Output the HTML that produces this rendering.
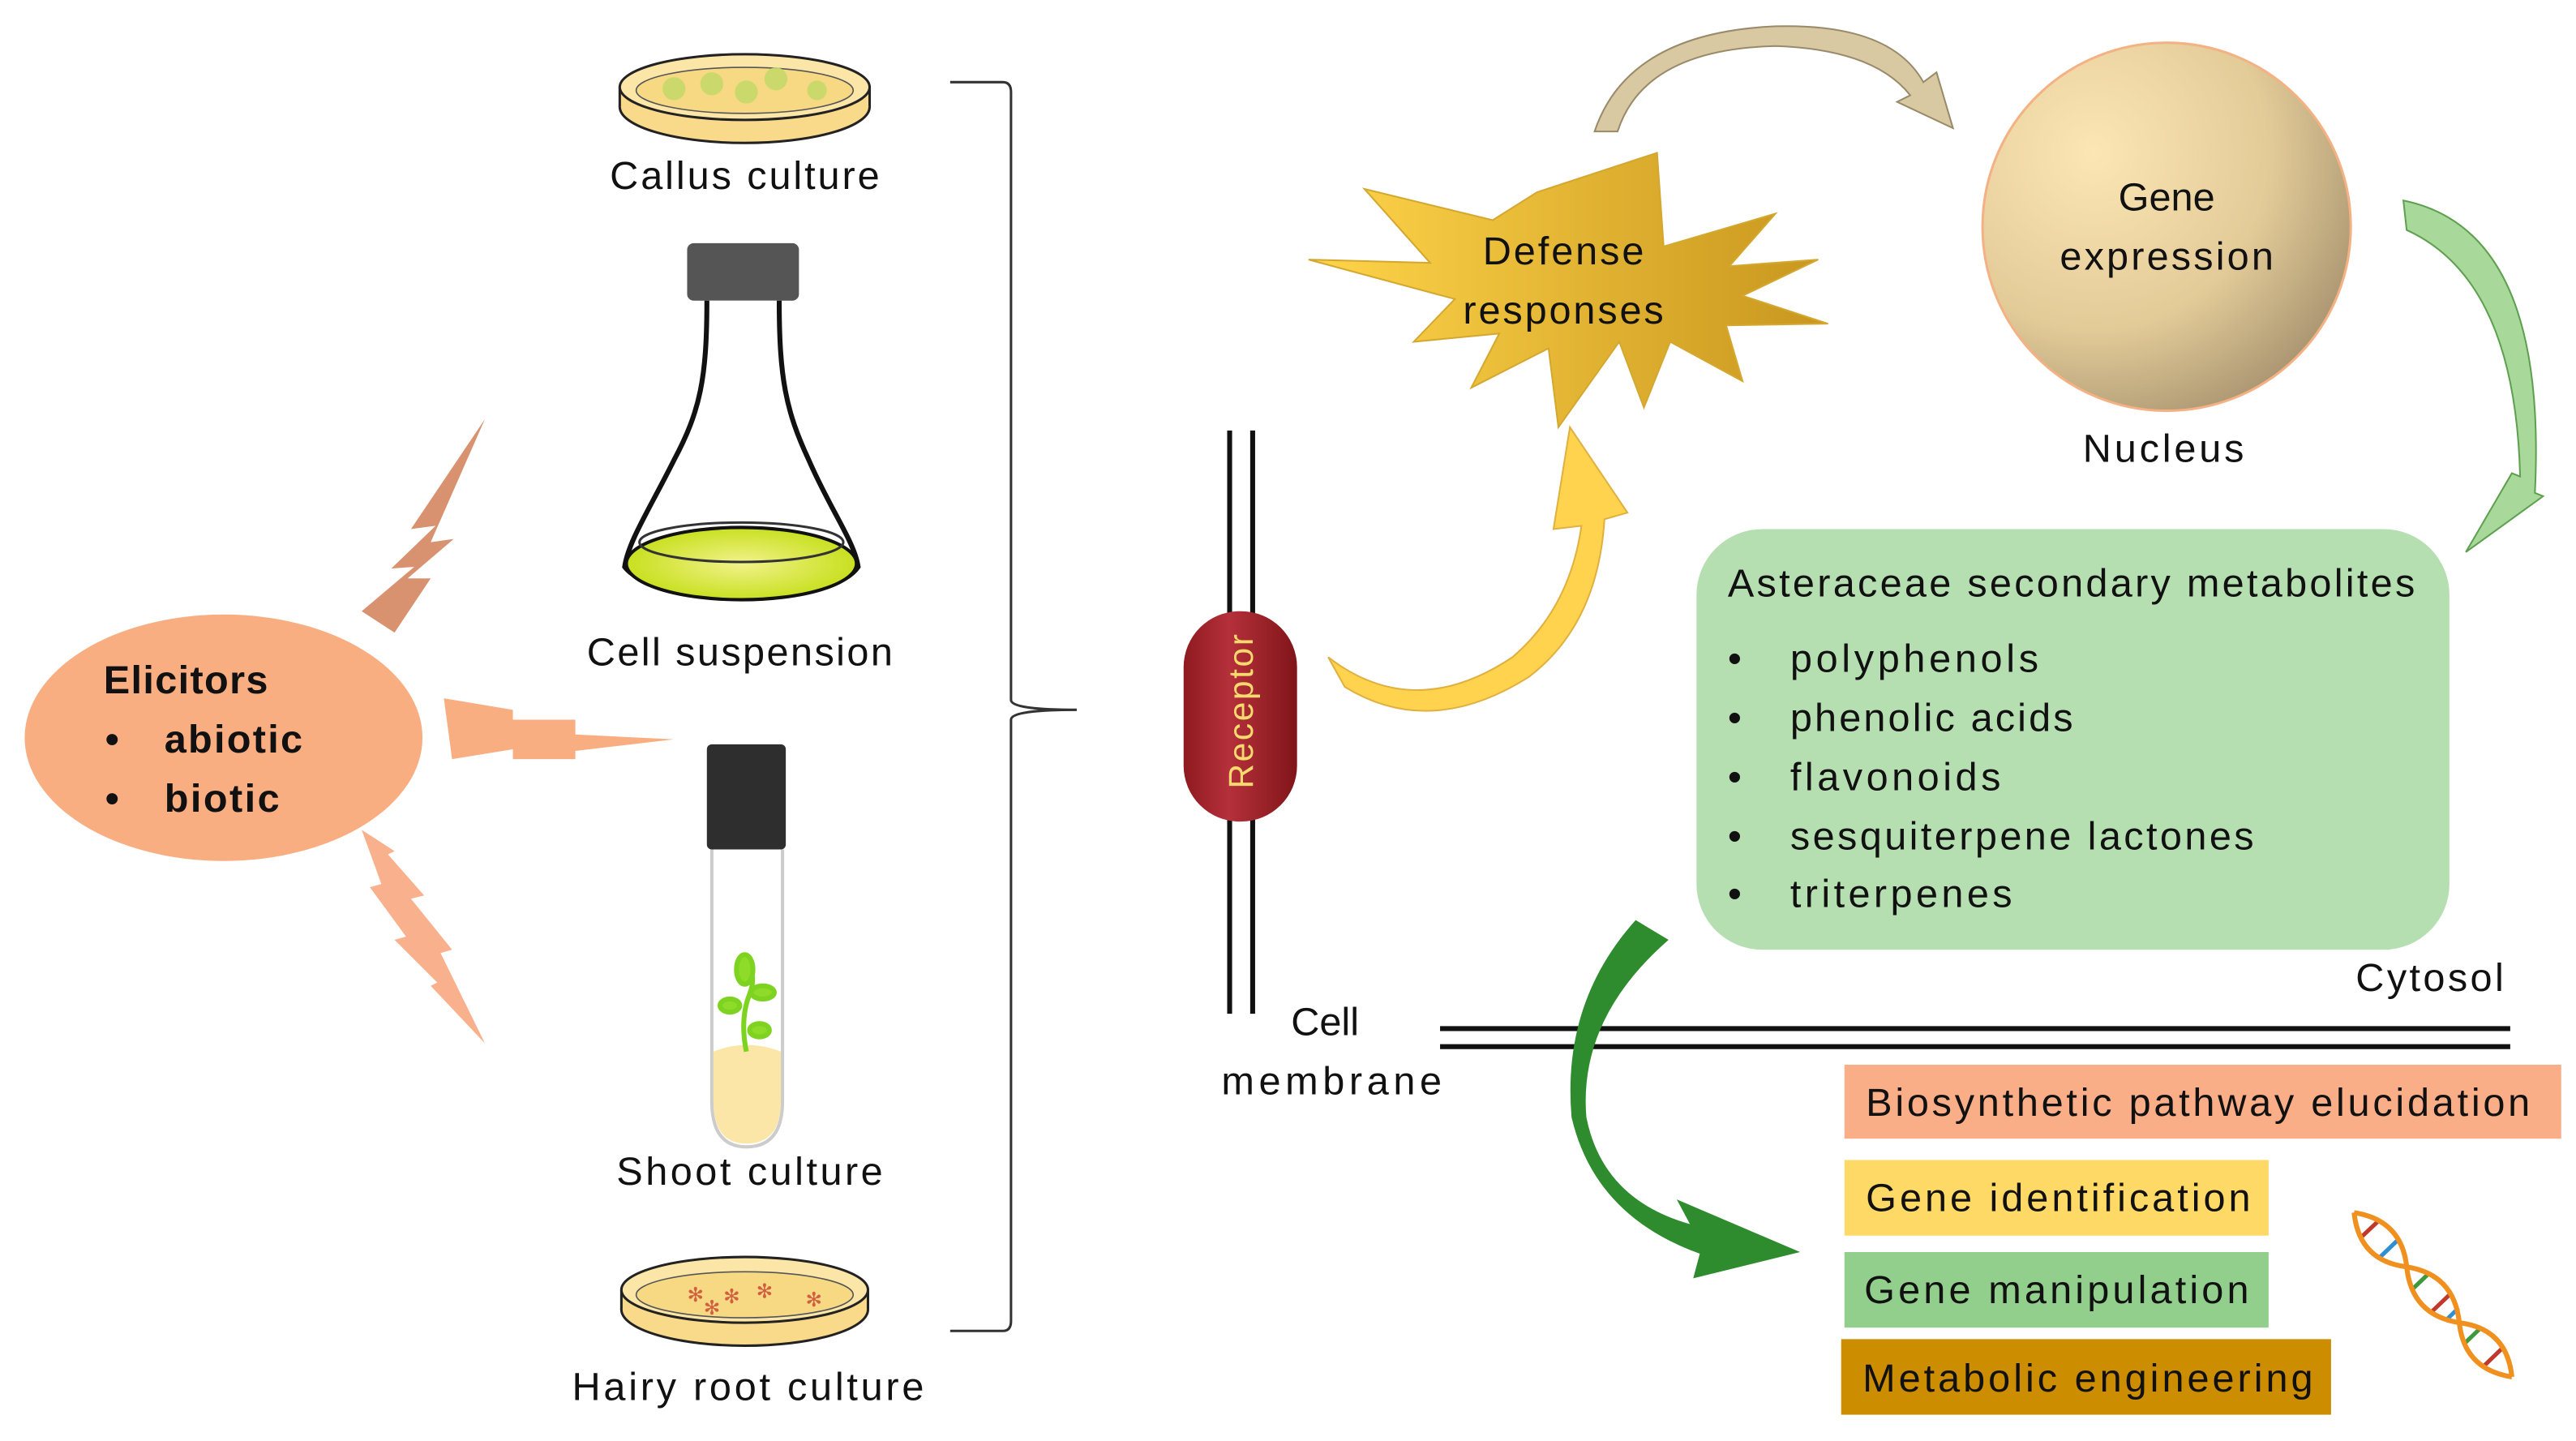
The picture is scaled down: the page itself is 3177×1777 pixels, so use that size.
<!DOCTYPE html>
<html><head><meta charset="utf-8"><style>html,body{margin:0;padding:0;background:#fff}svg{display:block}text{font-family:"Liberation Sans",sans-serif;fill:#111}</style></head>
<body>
<svg width="3177" height="1777" viewBox="0 0 1567 877" preserveAspectRatio="none" xmlns="http://www.w3.org/2000/svg">
<defs>
<radialGradient id="nuc" cx="0.3" cy="0.3" r="0.8"><stop offset="0" stop-color="#FBE6B4"/><stop offset="0.6" stop-color="#E3CB98"/><stop offset="1" stop-color="#A89470"/></radialGradient>
<linearGradient id="star" x1="0" x2="1"><stop offset="0" stop-color="#FFD54A"/><stop offset="1" stop-color="#C8961E"/></linearGradient>
<linearGradient id="rec" x1="0" x2="1"><stop offset="0" stop-color="#8E1A20"/><stop offset="0.4" stop-color="#B5303A"/><stop offset="1" stop-color="#801519"/></linearGradient>
<radialGradient id="liq"><stop offset="0" stop-color="#F2F28A"/><stop offset="1" stop-color="#C8E020"/></radialGradient>
</defs>

<ellipse cx="136" cy="449" rx="121" ry="75" fill="#F9AE82"/>
<text x="63" y="422" font-size="24" font-weight="bold" textLength="100">Elicitors</text>
<text x="64" y="458" font-size="24" font-weight="bold">•</text>
<text x="100" y="458" font-size="24" font-weight="bold" textLength="84">abiotic</text>
<text x="64" y="494" font-size="24" font-weight="bold">•</text>
<text x="100" y="494" font-size="24" font-weight="bold" textLength="70">biotic</text>

<polygon points="295,255 262,330 276,328 248,352 262,352 240,385 220,372 252,345 238,346 265,320 250,322" fill="#D99270"/>
<polygon points="270,425 312,432 312,438 350,438 350,447 410,450 350,457 350,462 312,462 312,456 275,462" fill="#F9AE82"/>
<polygon points="220,505 240,518 236,520 258,545 250,547 275,578 268,580 295,635 262,600 266,598 240,572 247,570 225,540 232,538" fill="#F9B08C"/>

<ellipse cx="453" cy="65" rx="76" ry="22" fill="#F9D98A" stroke="#222" stroke-width="1.5"/>
<rect x="377" y="53" width="152" height="12" fill="#F9D98A"/>
<line x1="377" y1="53" x2="377" y2="65" stroke="#222" stroke-width="1.5"/><line x1="529" y1="53" x2="529" y2="65" stroke="#222" stroke-width="1.5"/>
<ellipse cx="453" cy="53" rx="76" ry="20" fill="#FBE6A8" stroke="#222" stroke-width="1.5"/>
<ellipse cx="453" cy="55" rx="66" ry="14" fill="#F7D983" stroke="#555" stroke-width="0.8"/>
<g fill="#C7D96A" opacity="0.9"><circle cx="410" cy="54" r="7"/><circle cx="433" cy="51" r="7"/><circle cx="454" cy="56" r="7"/><circle cx="472" cy="48" r="7"/><circle cx="497" cy="55" r="6"/></g>
<text x="453" y="115" font-size="24" text-anchor="middle" textLength="164">Callus culture</text>

<rect x="418" y="148" width="68" height="35" rx="4" fill="#555"/>
<path d="M430 183 C430 230 426 250 410 280 C395 310 382 330 380 345 C400 370 505 370 522 345 C520 330 505 310 492 280 C478 250 474 230 474 183" fill="#fff" stroke="#111" stroke-width="3"/>
<ellipse cx="451" cy="343" rx="70" ry="22" fill="url(#liq)" stroke="#111" stroke-width="2"/>
<ellipse cx="451" cy="330" rx="62" ry="12" fill="none" stroke="#333" stroke-width="1.5"/>
<text x="450" y="405" font-size="24" text-anchor="middle" textLength="186">Cell suspension</text>

<path d="M433 517 L433 670 Q433 698 454 698 Q476 698 476 670 L476 517" fill="#fff" stroke="#ccc" stroke-width="2"/>
<path d="M434 640 Q454 632 475 640 L475 670 Q475 696 454 696 Q434 696 434 670 Z" fill="#FBE6A8"/>
<rect x="430" y="453" width="48" height="64" rx="3" fill="#2E2E2E"/>
<g stroke="#7ED321" stroke-width="3" fill="#8EDB2A"><path d="M454 640 Q450 620 456 605 Q460 595 455 585" fill="none"/>
<ellipse cx="453" cy="590" rx="5" ry="9"/><ellipse cx="464" cy="604" rx="7" ry="4"/><ellipse cx="444" cy="612" rx="6" ry="4"/><ellipse cx="462" cy="627" rx="6" ry="4"/></g>
<text x="456" y="721" font-size="24" text-anchor="middle" textLength="162">Shoot culture</text>

<ellipse cx="453" cy="797" rx="75" ry="22" fill="#F9D98A" stroke="#222" stroke-width="1.5"/>
<rect x="378" y="785" width="150" height="12" fill="#F9D98A"/>
<line x1="378" y1="785" x2="378" y2="797" stroke="#222" stroke-width="1.5"/><line x1="528" y1="785" x2="528" y2="797" stroke="#222" stroke-width="1.5"/>
<ellipse cx="453" cy="785" rx="75" ry="20" fill="#FBE6A8" stroke="#222" stroke-width="1.5"/>
<ellipse cx="453" cy="788" rx="66" ry="14" fill="#F7D983" stroke="#555" stroke-width="0.8"/>
<g font-size="12"><text x="418" y="792" style="fill:#D06040">✻</text><text x="440" y="793" style="fill:#D06040">✻</text><text x="460" y="790" style="fill:#D06040">✻</text><text x="428" y="800" style="fill:#D06040">✻</text><text x="490" y="795" style="fill:#D06040">✻</text></g>
<text x="455" y="852" font-size="24" text-anchor="middle" textLength="214">Hairy root culture</text>

<path d="M578 50 L610 50 Q615 50 615 56 L615 426 Q615 432 655 432 Q615 432 615 438 L615 804 Q615 810 610 810 L578 810" fill="none" stroke="#333" stroke-width="1.5"/>

<line x1="748" y1="262" x2="748" y2="617" stroke="#111" stroke-width="3"/>
<line x1="762" y1="262" x2="762" y2="617" stroke="#111" stroke-width="3"/>
<rect x="720" y="372" width="69" height="128" rx="34" fill="url(#rec)"/>
<text transform="translate(762,480) rotate(-90)" font-size="21" style="fill:#F7D96E" textLength="94">Receptor</text>
<text x="806" y="630" font-size="24" text-anchor="middle">Cell</text>
<text x="810" y="666" font-size="24" text-anchor="middle" textLength="134">membrane</text>

<line x1="876" y1="626" x2="1527" y2="626" stroke="#111" stroke-width="3"/>
<line x1="876" y1="637" x2="1527" y2="637" stroke="#111" stroke-width="3"/>

<path d="M808 400 Q860 440 920 400 Q955 370 962 320 L945 322 L955 260 L990 312 L976 316 Q972 380 930 412 Q870 450 818 418 Z" fill="#FFD34E" stroke="#E0B040" stroke-width="1"/>

<polygon points="1008,93 1012,150 1080,130 1052,162 1106,158 1060,180 1112,197 1050,198 1060,232 1016,208 1000,248 985,208 948,260 942,212 895,236 912,203 860,208 885,182 796,158 870,160 830,115 908,134 935,117" fill="url(#star)" stroke="#D4A830" stroke-width="1"/>
<text x="951" y="161" font-size="24" text-anchor="middle" textLength="98">Defense</text>
<text x="951" y="197" font-size="24" text-anchor="middle" textLength="122">responses</text>

<path d="M970 80 Q990 20 1080 16 Q1150 14 1170 50 L1178 44 L1188 78 L1154 62 L1162 58 Q1140 30 1080 28 Q1000 30 984 80 Z" fill="#D8C9A2" stroke="#998A6A" stroke-width="1"/>

<circle cx="1318" cy="138" r="112" fill="url(#nuc)" stroke="#F4B183" stroke-width="1.5"/>
<text x="1318" y="128" font-size="24" text-anchor="middle">Gene</text>
<text x="1318" y="164" font-size="24" text-anchor="middle" textLength="130">expression</text>
<text x="1316" y="281" font-size="24" text-anchor="middle" textLength="98">Nucleus</text>

<path d="M1462 122 Q1550 140 1542 300 L1547 302 L1500 336 L1528 288 L1533 290 Q1530 170 1464 140 Z" fill="#A8D89A" stroke="#5EA050" stroke-width="1"/>

<rect x="1032" y="322" width="458" height="256" rx="40" fill="#B6DFB1"/>
<text x="1051" y="363" font-size="24" textLength="418">Asteraceae secondary metabolites</text>
<g font-size="24">
<text x="1051" y="409">•</text><text x="1089" y="409" textLength="151">polyphenols</text>
<text x="1051" y="445">•</text><text x="1089" y="445" textLength="172">phenolic acids</text>
<text x="1051" y="481">•</text><text x="1089" y="481" textLength="128">flavonoids</text>
<text x="1051" y="517">•</text><text x="1089" y="517" textLength="282">sesquiterpene lactones</text>
<text x="1051" y="552">•</text><text x="1089" y="552" textLength="135">triterpenes</text>
</g>
<text x="1478" y="603" font-size="24" text-anchor="middle" textLength="90">Cytosol</text>

<path d="M1015 572 Q960 620 965 680 Q975 730 1028 745 L1020 730 L1095 762 L1030 778 L1034 763 Q970 740 956 680 Q950 610 995 560 Z" fill="#2E8B2E"/>

<rect x="1122" y="648" width="436" height="45" fill="#F9AE88"/>
<text x="1135" y="679" font-size="24" textLength="404">Biosynthetic pathway elucidation</text>
<rect x="1122" y="706" width="258" height="46" fill="#FFD966"/>
<text x="1135" y="737" font-size="24" textLength="234">Gene identification</text>
<rect x="1122" y="762" width="258" height="46" fill="#93CF8C"/>
<text x="1134" y="793" font-size="24" textLength="234">Gene manipulation</text>
<rect x="1120" y="815" width="298" height="46" fill="#CC8D00"/>
<text x="1133" y="847" font-size="24" textLength="274">Metabolic engineering</text>

<g stroke-width="2.5">
<line x1="1436.3" y1="753" x2="1446.9" y2="743" stroke="#C0392B"/>
<line x1="1447.5" y1="765.4" x2="1458.7" y2="754.6" stroke="#2F8FD0"/>
<line x1="1467.5" y1="784.6" x2="1477.1" y2="775.4" stroke="#3C9A3C"/>
<line x1="1478.4" y1="799.1" x2="1491.2" y2="786.9" stroke="#C0392B"/>
<line x1="1487.5" y1="803.9" x2="1495.5" y2="796.1" stroke="#2F8FD0"/>
<line x1="1499.4" y1="817.4" x2="1508.6" y2="808.6" stroke="#3C9A3C"/>
<line x1="1510.5" y1="831.8" x2="1522.5" y2="820.2" stroke="#C0392B"/>
</g>
<path d="M1432 738 Q1461 742.6 1464 771 Q1467 800.4 1496 805 Q1525 808.6 1528 838" fill="none" stroke="#F0901E" stroke-width="3"/>
<path d="M1432 738 Q1435 767.4 1464 771 Q1493 775.6 1496 805 Q1499 833.4 1528 838" fill="none" stroke="#F0901E" stroke-width="3"/>
</svg>
</body></html>
